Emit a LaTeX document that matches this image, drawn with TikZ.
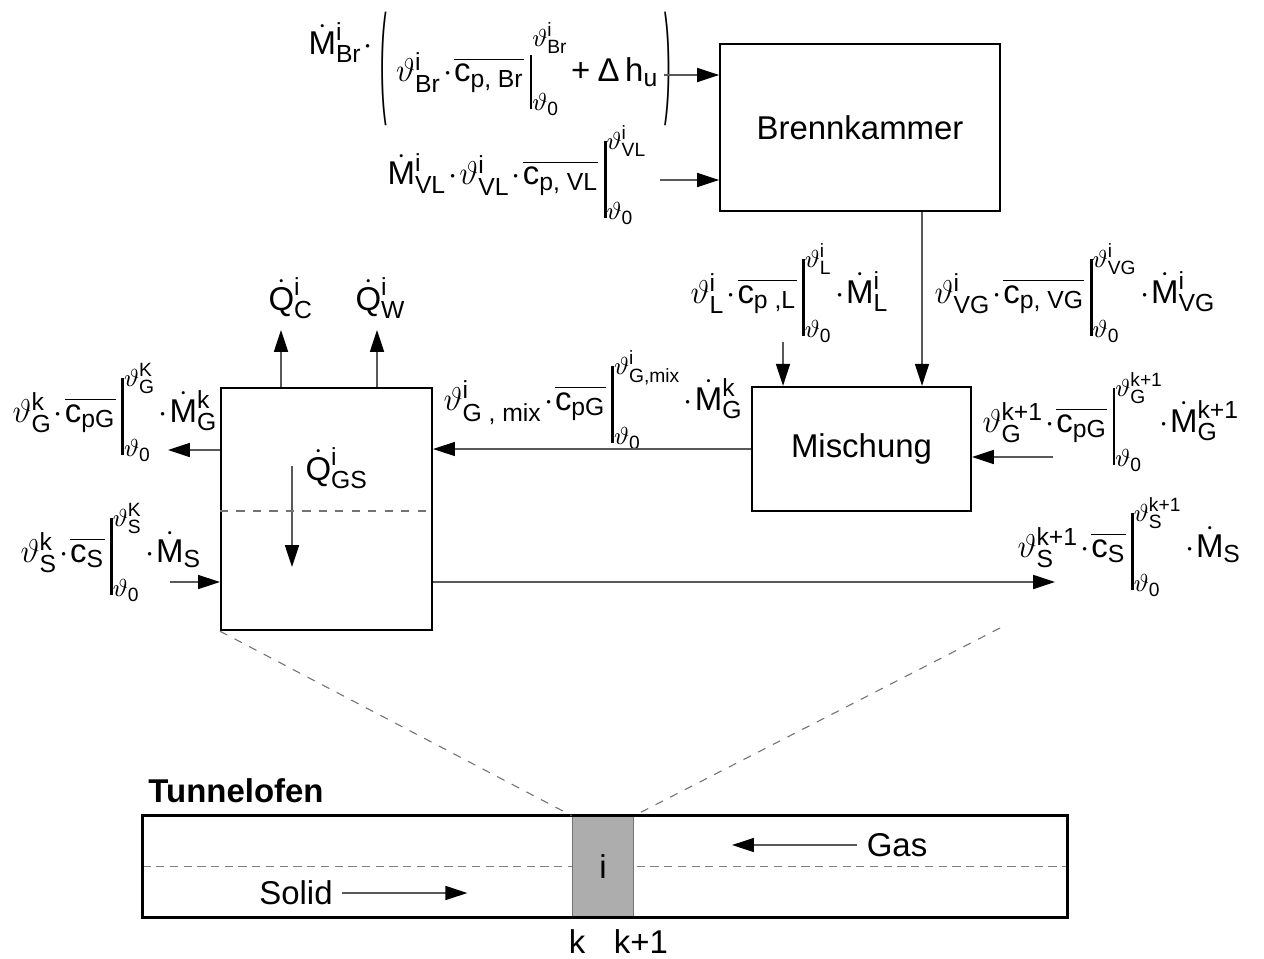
\documentclass[tikz,border=0pt]{standalone}
\usepackage{amsmath}
\usepackage{graphicx}
\usepackage[no-math]{fontspec}
\setmainfont{Liberation Sans}
\usepackage{tikz}
\usetikzlibrary{arrows.meta}
\DeclareMathSizes{12}{12}{9}{7}

\newcommand{\R}[1]{\text{#1}}
\newcommand{\tht}{\vartheta}
\newcommand{\Md}{\mathord{\smash{\dot{\R{M}}}\vphantom{\R{M}}}}
\newcommand{\Qd}{\mathord{\smash{\dot{\R{Q}}}\vphantom{\R{Q}}}}
\newcommand{\md}{\mskip1mu{\cdot}\mskip1mu}
\newcommand{\cq}[1]{\overline{\R{c}_{\R{#1}}}}
\newcommand{\ev}[2]{{\rule[-12pt]{1pt}{28pt}}^{#1}_{#2}}
\newcommand{\gpar}[1]{\mathord{\raisebox{-6.8pt}{\scalebox{0.6}[3.7]{#1}}}}

\begin{document}
\begin{tikzpicture}[x=0.128mm, y=-0.128mm, font=\fontsize{12}{14}\selectfont]
    \tikzstyle{block} = [rectangle, draw, line width=0.8pt, inner sep=0pt]
    \tikzstyle{flow} = [draw=black!65, line width=0.45pt, -{Triangle[length=2.8mm, width=1.8mm, color=black]}]
    \tikzstyle{formel} = [anchor=base west, inner sep=0pt]
    \tikzstyle{hilfslinie} = [draw=black!55, dashed, line width=0.4pt]
    \useasboundingbox (0,0) rectangle (1264,958);

    % Bloecke
    \node [block, minimum width=35.8mm, minimum height=21.4mm] (brenn) at (860,127.5) {Brennkammer};
    \node [block, minimum width=28mm, minimum height=15.9mm] (misch) at (861.5,449) {Mischung};
    \node [block, minimum width=27mm, minimum height=31mm] (gs) at (326.5,509) {};

    % Bilanzterme
    \node [formel] (fbr) at (308,82) {$\raisebox{10pt}{$\Md^{\R{i}}_{\R{Br}}\md$}\,\gpar{(}\;\tht^{\R{i}}_{\R{Br}}\md\cq{p, Br}\,{\rule[-10pt]{1pt}{20pt}\rule{0pt}{16pt}}^{\tht^{\R{i}}_{\R{Br}}}_{\tht_{\R{0}}}\!\mathbin{\R{+}}\R{Δ}\,\R{h}_{\R{u}}\,\gpar{)}$};
    \node [formel] (fvl) at (387,185) {$\Md^{\R{i}}_{\R{VL}}\md\tht^{\R{i}}_{\R{VL}}\md\cq{p, VL}\,\ev{\tht^{\R{i}}_{\R{VL}}}{\tht_{\R{0}}}$};
    \node [formel] (fl) at (690,303) {$\tht^{\R{i}}_{\R{L}}\md\cq{p ,L}\,\ev{\tht^{\R{i}}_{\R{L}}}{\tht_{\R{0}}}\md\Md^{\R{i}}_{\R{L}}$};
    \node [formel] (fvg) at (934,303) {$\tht^{\R{i}}_{\R{VG}}\md\cq{p, VG}\,\ev{\tht^{\R{i}}_{\R{VG}}}{\tht_{\R{0}}}\md\Md^{\R{i}}_{\R{VG}}$};
    \node [formel] (fmix) at (443,410) {$\tht^{\R{i}}_{\R{G , mix}}\md\cq{pG}\,\ev{\tht^{\R{i}}_{\R{G,mix}}}{\tht_{\R{0}}}\md\Md^{\R{k}}_{\R{G}}$};
    \node [formel] (fgk) at (12,422) {$\tht^{\R{k}}_{\R{G}}\md\cq{pG}\,\ev{\tht^{\R{K}}_{\R{G}}}{\tht_{\R{0}}}\md\Md^{\R{k}}_{\R{G}}$};
    \node [formel] (fgk1) at (982,432) {$\tht^{\R{k+1}}_{\R{G}}\md\cq{pG}\,\ev{\tht^{\R{k+1}}_{\R{G}}}{\tht_{\R{0}}}\mkern-4mu\md\Md^{\R{k+1}}_{\R{G}}$};
    \node [formel] (fsk) at (20,562) {$\tht^{\R{k}}_{\R{S}}\md\cq{S}\,\ev{\tht^{\R{K}}_{\R{S}}}{\tht_{\R{0}}}\md\Md_{\R{S}}$};
    \node [formel] (fsk1) at (1017,557) {$\tht^{\R{k+1}}_{\R{S}}\md\cq{S}\,\ev{\tht^{\R{k+1}}_{\R{S}}}{\tht_{\R{0}}}\md\Md_{\R{S}}$};
    \node [formel] (qc) at (268,310) {$\Qd^{\R{i}}_{\R{C}}$};
    \node [formel] (qw) at (355,310) {$\Qd^{\R{i}}_{\R{W}}$};
    \node [formel] (qgsl) at (305,480) {$\Qd^{\R{i}}_{\R{GS}}$};

    % Stroeme
    \coordinate (brin) at (664,75);
    \coordinate (vlin) at (660,180);
    \draw [flow] (brin) -- (brin -| brenn.west);
    \draw [flow] (vlin) -- (vlin -| brenn.west);
    \coordinate (vgx) at (922,0);
    \draw [flow] (brenn.south -| vgx) -- (misch.north -| vgx);
    \coordinate (lin) at (783,342);
    \draw [flow] (lin) -- (lin |- misch.north);
    \coordinate (gin) at (1053,457);
    \draw [flow] (gin) -- (gin -| misch.east);
    \draw [flow] (misch.west) -- (misch.west -| gs.east);
    \coordinate (gout) at (168,450);
    \draw [flow] (gout -| gs.west) -- (gout);
    \coordinate (sin) at (170,582);
    \draw [flow] (sin) -- (sin -| gs.west);
    \coordinate (sout) at (1055,582);
    \draw [flow] (sout -| gs.east) -- (sout);
    \coordinate (qcx) at (281,330);
    \coordinate (qwx) at (377,330);
    \draw [flow] (gs.north -| qcx) -- (qcx);
    \draw [flow] (gs.north -| qwx) -- (qwx);
    \coordinate (qgs) at (292,466);
    \draw [flow] (qgs) -- ++(0,101);
    \coordinate (gsmid) at (0,511);
    \draw [hilfslinie] (gsmid -| gs.west) -- (gsmid -| gs.east);

    % Tunnelofen
    \node [font=\fontsize{12}{14}\selectfont\bfseries] (titel) at (236,791) {Tunnelofen};
    \node [minimum width=118.3mm, minimum height=12.9mm, inner sep=0pt] (tunnel) at (605,866.5) {};
    \draw [black!50, densely dashed, line width=0.4pt] (tunnel.west) -- (tunnel.east);
    \node [fill=black!32, draw=black!55, line width=0.4pt, minimum width=7.9mm, minimum height=12.9mm, inner sep=0pt] (cell) at (603,866.5) {i};
    \draw [line width=1pt] (tunnel.south west) rectangle (tunnel.north east);
    \node (gas) at (897,845) {Gas};
    \draw [flow] (gas.west) -- ++(-125,0);
    \node (solid) at (296,893) {Solid};
    \draw [flow] (solid.east) -- ++(125,0);
    \node (k) at (577,942) {k};
    \node (k1) at (641,942) {k+1};
    \coordinate (fr) at (1000,628);
    \draw [hilfslinie] (gs.south west) -- (cell.north west);
    \draw [hilfslinie] (fr) -- (cell.north east);
\end{tikzpicture}
\end{document}
